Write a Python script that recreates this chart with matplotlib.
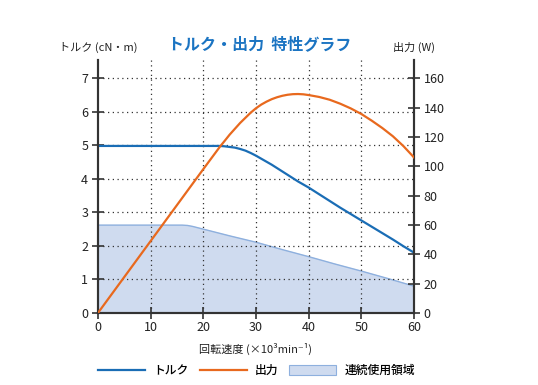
import numpy as np
import matplotlib
matplotlib.use('Agg')
import matplotlib.pyplot as plt
from matplotlib.lines import Line2D
from matplotlib.patches import Patch

plt.rcParams['font.family'] = ['Noto Sans CJK JP', 'DejaVu Sans']

# torque curve (cN·m) vs speed (x10^3 min^-1)
torque_speed = [0, 10, 20, 23, 24, 25, 26, 27, 28, 29, 30, 31, 32, 33, 34, 35, 36, 37,
                38, 39, 40, 42, 44, 46, 48, 50, 52, 54, 56, 58, 60]
torque = [4.98, 4.98, 4.98, 4.98, 4.97, 4.95, 4.93, 4.89, 4.84, 4.77, 4.69, 4.60, 4.51,
          4.42, 4.32, 4.22, 4.12, 4.02, 3.92, 3.83, 3.74, 3.54, 3.34, 3.14, 2.95, 2.76,
          2.57, 2.38, 2.19, 1.99, 1.80]

# output curve (W)
power_speed = [0, 10, 20, 23.2, 24, 25, 26, 27, 28, 29, 30, 31, 32, 33, 34, 35, 36, 37,
               38, 39, 40, 42, 44, 46, 48, 50, 52, 54, 56, 58, 60]
power = [0, 49, 98, 113.5, 117, 121.5, 125.5, 129.5, 133, 136.5, 139.5, 142, 144,
         145.7, 147, 148, 148.7, 149.1, 149.2, 149, 148.5, 147.2, 145.3, 142.6, 139.4,
         135.6, 131, 126, 120.4, 113.7, 106]

# continuous operating region (cN·m)
cont_speed = [0, 10, 16, 17, 18, 19, 20, 25, 30, 35, 40, 45, 50, 55, 60]
cont_torque = [2.62, 2.62, 2.62, 2.61, 2.58, 2.54, 2.50, 2.30, 2.11, 1.89, 1.68, 1.46,
               1.25, 1.03, 0.80]

blue = '#1a6db5'
orange = '#e8691e'
fill_c = '#cfdbef'
fill_edge = '#8eb0de'
axis_c = '#333333'

fig = plt.figure(figsize=(5.38, 3.85), dpi=100)
ax = fig.add_axes([0.182, 0.187, 0.5875, 0.657])
ax2 = ax.twinx()

ymax = 7.54
ax.set_xlim(0, 60)
ax.set_ylim(0, ymax)
ax2.set_ylim(0, ymax * 160 / 7)

ax.fill_between(cont_speed, cont_torque, 0, color=fill_c, zorder=1)
ax.plot(cont_speed, cont_torque, color=fill_edge, lw=1.0, zorder=2)
ax.plot(torque_speed, torque, color=blue, lw=1.6, zorder=4)
ax2.plot(power_speed, power, color=orange, lw=1.6, zorder=4)

# dotted grid
for gx in range(10, 60, 10):
    ax.axvline(gx, color='#333333', lw=0.9, ls=(0, (1, 2.8)), zorder=3)
for gy in range(1, 8):
    ax.axhline(gy, color='#333333', lw=0.9, ls=(0, (1, 2.8)), zorder=3)

ax.set_xticks(range(0, 61, 10))
ax.set_yticks(range(0, 8))
ax2.set_yticks(range(0, 161, 20))

for a in (ax, ax2):
    a.spines['top'].set_visible(False)
    for s in ('left', 'right', 'bottom'):
        a.spines[s].set_color(axis_c)
        a.spines[s].set_linewidth(1.5)
    a.tick_params(direction='inout', length=8, width=1.2, color=axis_c,
                  labelsize=9, labelcolor='#222222')
ax.tick_params(axis='x', pad=2)
ax.tick_params(axis='y', pad=3)
ax2.tick_params(axis='y', pad=3)
ax2.patch.set_visible(False)

ax.set_xlabel('回転速度 (×10³min⁻¹)', fontsize=8, labelpad=6, color='#222222')

fig.text(0.483, 0.885, 'トルク・出力  特性グラフ', ha='center', va='center',
         fontsize=11.5, fontweight='bold', color='#1b74c2')
fig.text(0.182, 0.878, 'トルク (cN・m)', ha='center', va='center', fontsize=8, color='#222222')
fig.text(0.77, 0.878, '出力 (W)', ha='center', va='center', fontsize=8, color='#222222')

handles = [Line2D([], [], color=blue, lw=1.6),
           Line2D([], [], color=orange, lw=1.6),
           Patch(facecolor=fill_c, edgecolor=fill_edge, lw=0.8)]
labels = ['トルク', '出力', '連続使用領域']
fig.legend(handles, labels, loc='center', bbox_to_anchor=(0.477, 0.037), ncol=3,
           frameon=False, fontsize=8.5, handlelength=4.0, handleheight=1.0,
           columnspacing=0.9, handletextpad=0.7, prop={'weight': 'medium', 'size': 8.5})

fig.savefig('out.png', dpi=100)
